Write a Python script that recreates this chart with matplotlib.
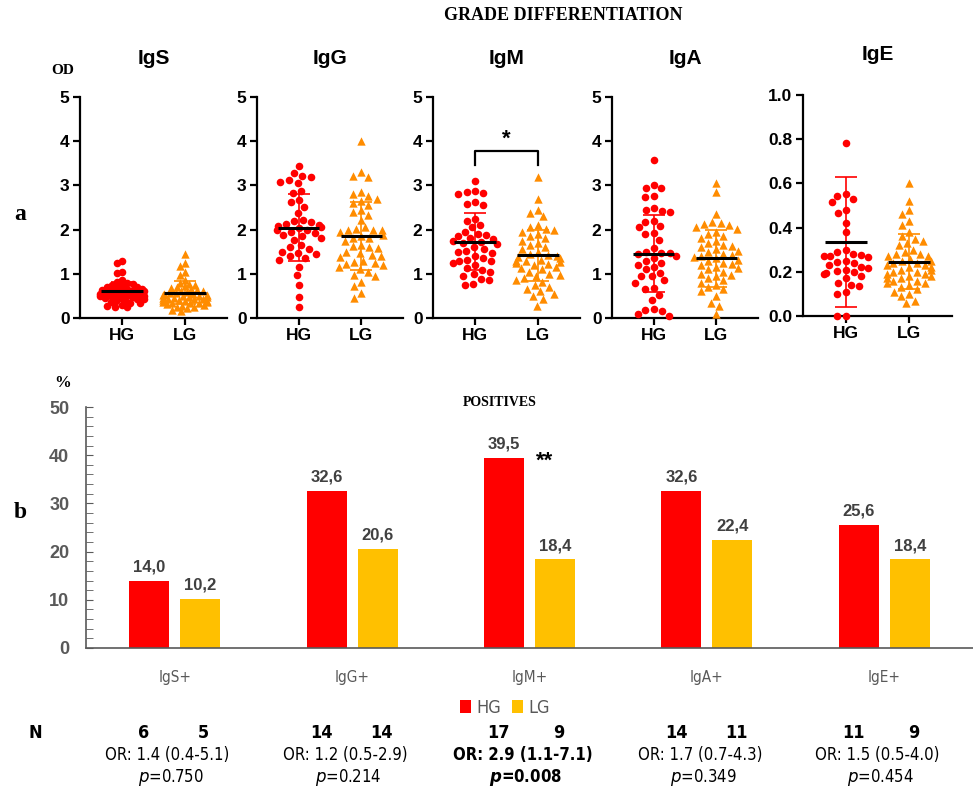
import numpy as np
import matplotlib
matplotlib.use("Agg")
import matplotlib.pyplot as plt

# ---- data ----
panels = ["IgS", "IgG", "IgM", "IgA", "IgE"]
groups = ["HG", "LG"]

igs_hg = [1.28, 1.24, 1.05, 1.02, 0.85, 0.82, 0.80, 0.78, 0.75, 0.72, 0.70, 0.70, 0.68, 0.66, 0.65,
          0.64, 0.62, 0.60, 0.60, 0.58, 0.57, 0.56, 0.55, 0.54, 0.53, 0.52, 0.50, 0.50, 0.48, 0.47,
          0.46, 0.45, 0.44, 0.42, 0.40, 0.38, 0.36, 0.35, 0.33, 0.30, 0.28, 0.26, 0.24]
igs_lg = [1.45, 1.25, 1.18, 1.05, 0.98, 0.85, 0.80, 0.78, 0.75, 0.72, 0.70, 0.68, 0.66, 0.64, 0.62,
          0.60, 0.58, 0.57, 0.56, 0.55, 0.54, 0.53, 0.52, 0.50, 0.49, 0.48, 0.47, 0.46, 0.45, 0.44,
          0.43, 0.42, 0.41, 0.40, 0.39, 0.38, 0.37, 0.36, 0.35, 0.34, 0.33, 0.32, 0.30, 0.28, 0.26,
          0.24, 0.22, 0.19, 0.16]
igg_hg = [3.43, 3.27, 3.22, 3.20, 3.12, 3.08, 3.05, 2.87, 2.82, 2.68, 2.63, 2.52, 2.38, 2.22, 2.20,
          2.18, 2.12, 2.10, 2.08, 2.05, 2.03, 2.00, 1.98, 1.95, 1.92, 1.88, 1.85, 1.80, 1.76, 1.65,
          1.60, 1.57, 1.50, 1.47, 1.45, 1.40, 1.36, 1.32, 1.16, 0.97, 0.75, 0.48, 0.26]
igg_lg = [4.0, 3.3, 3.22, 3.2, 2.85, 2.8, 2.75, 2.7, 2.65, 2.6, 2.55, 2.45, 2.4, 2.33, 2.22, 2.05,
          2.02, 2.0, 2.0, 1.98, 1.95, 1.88, 1.85, 1.82, 1.8, 1.75, 1.65, 1.62, 1.6, 1.58, 1.5, 1.46,
          1.42, 1.4, 1.38, 1.28, 1.26, 1.24, 1.22, 1.2, 1.15, 1.1, 1.05, 0.97, 0.95, 0.82, 0.72,
          0.56, 0.45]
igm_hg = [3.1, 2.88, 2.85, 2.83, 2.8, 2.62, 2.58, 2.55, 2.25, 2.2, 2.1, 2.05, 1.95, 1.9, 1.88, 1.85,
          1.8, 1.78, 1.75, 1.72, 1.7, 1.68, 1.6, 1.55, 1.52, 1.5, 1.48, 1.4, 1.35, 1.32, 1.3, 1.28,
          1.25, 1.2, 1.12, 1.08, 1.05, 1.0, 0.95, 0.88, 0.85, 0.78, 0.75]
igm_lg = [3.2, 2.7, 2.45, 2.38, 2.3, 2.1, 2.05, 2.02, 2.0, 1.95, 1.9, 1.85, 1.8, 1.75, 1.7, 1.65,
          1.6, 1.55, 1.5, 1.45, 1.42, 1.4, 1.38, 1.35, 1.32, 1.3, 1.28, 1.26, 1.25, 1.22, 1.2, 1.15,
          1.12, 1.1, 1.05, 1.0, 0.98, 0.95, 0.9, 0.86, 0.82, 0.75, 0.7, 0.65, 0.6, 0.55, 0.5, 0.42,
          0.28]
iga_hg = [3.57, 3.02, 2.95, 2.93, 2.75, 2.74, 2.5, 2.45, 2.42, 2.4, 2.2, 2.18, 2.08, 2.05, 1.92,
          1.9, 1.76, 1.58, 1.5, 1.48, 1.47, 1.45, 1.4, 1.35, 1.3, 1.25, 1.2, 1.15, 1.1, 1.01, 0.95,
          0.94, 0.85, 0.8, 0.67, 0.65, 0.52, 0.4, 0.2, 0.17, 0.15, 0.08, 0.04]
iga_lg = [3.05, 2.85, 2.35, 2.18, 2.15, 2.12, 2.1, 2.05, 2.02, 1.95, 1.9, 1.85, 1.8, 1.75, 1.7,
          1.65, 1.62, 1.6, 1.55, 1.52, 1.5, 1.45, 1.42, 1.4, 1.38, 1.35, 1.32, 1.3, 1.25, 1.22, 1.2,
          1.15, 1.12, 1.1, 1.05, 1.0, 0.98, 0.95, 0.9, 0.85, 0.8, 0.75, 0.7, 0.65, 0.6, 0.5, 0.35,
          0.28, 0.1]
ige_hg = [0.784, 0.55, 0.545, 0.53, 0.515, 0.48, 0.465, 0.42, 0.38, 0.30, 0.29, 0.28, 0.275, 0.27,
          0.27, 0.265, 0.25, 0.245, 0.24, 0.23, 0.22, 0.215, 0.21, 0.205, 0.20, 0.195, 0.19, 0.18,
          0.17, 0.15, 0.14, 0.135, 0.11, 0.10, 0.0, 0.0]
ige_lg = [0.60, 0.52, 0.48, 0.46, 0.43, 0.41, 0.38, 0.36, 0.35, 0.34, 0.33, 0.32, 0.30, 0.29, 0.28,
          0.28, 0.27, 0.27, 0.26, 0.25, 0.25, 0.24, 0.24, 0.23, 0.23, 0.22, 0.22, 0.21, 0.21, 0.20,
          0.20, 0.19, 0.19, 0.18, 0.18, 0.17, 0.17, 0.16, 0.16, 0.15, 0.15, 0.14, 0.13, 0.12, 0.11,
          0.10, 0.09, 0.07, 0.06]

hg_values = [igs_hg, igg_hg, igm_hg, iga_hg, ige_hg]
lg_values = [igs_lg, igg_lg, igm_lg, iga_lg, ige_lg]

# mean / SD as shown on the plots
hg_mean = [0.60, 2.04, 1.73, 1.45, 0.336]
hg_sd = [0.22, 0.76, 0.64, 0.87, 0.295]
lg_mean = [0.57, 1.86, 1.42, 1.35, 0.246]
lg_sd = [0.26, 0.77, 0.58, 0.64, 0.124]

bar_cats = ["IgS+", "IgG+", "IgM+", "IgA+", "IgE+"]
pct_hg = [14.0, 32.6, 39.5, 32.6, 25.6]
pct_lg = [10.2, 20.6, 18.4, 22.4, 18.4]
n_hg = [6, 14, 17, 14, 11]
n_lg = [5, 14, 9, 11, 9]
or_text = ["OR: 1.4 (0.4-5.1)", "OR: 1.2 (0.5-2.9)", "OR: 2.9 (1.1-7.1)",
           "OR: 1.7 (0.7-4.3)", "OR: 1.5 (0.5-4.0)"]
p_text = ["0.750", "0.214", "0.008", "0.349", "0.454"]

RED = "#FF0000"
ORANGE = "#FF8C00"
YELLOW = "#FFC000"
GREY = "#595959"
SANS = ["Liberation Sans", "DejaVu Sans"]
SERIF = ["Liberation Serif", "DejaVu Serif"]
NARROW = dict(family=["DejaVu Sans"], fontstretch="condensed")

W, H = 973, 787
fig = plt.figure(figsize=(W / 100, H / 100), dpi=100)
plt.rcParams["font.family"] = SANS


def box(x0, y0, x1, y1):
    # pixel box -> figure fraction rect
    return [x0 / W, 1 - y1 / H, (x1 - x0) / W, (y1 - y0) / H]


def ftext(x, y, s, **kw):
    fig.text(x / W, 1 - y / H, s, **kw)


def swarm(vals, ypx, xpx, d=8.5, maxw=22):
    # simple beeswarm: x offsets (data units) so points sit d pixels apart,
    # squashed to +-maxw pixels like a column scatter plot
    vals = np.asarray(vals, float)
    idx = np.argsort(-vals)
    placed = []
    xs = np.zeros(len(vals))
    for i in idx:
        y = vals[i] * ypx
        near = [(px, py) for px, py in placed if abs(py - y) < d]
        cands = [0.0]
        for px, py in near:
            dx = np.sqrt(d * d - (py - y) ** 2)
            cands += [px + dx, px - dx]
        cands.sort(key=lambda c: (abs(c), c))
        for c in cands:
            if all((c - px) ** 2 + (y - py) ** 2 >= d * d - 1e-6 for px, py in near):
                break
        placed.append((c, y))
        xs[i] = np.clip(c, -maxw, maxw) / xpx
    return xs


# ---- top row: scatter plots ----
boxes = [(80, 97, 227, 318), (257, 97, 403, 318), (433, 97, 580, 318),
         (612, 97, 758, 318), (803, 95, 952, 316)]

for i, name in enumerate(panels):
    ax = fig.add_axes(box(*boxes[i]))
    ymax = 1.0 if name == "IgE" else 5.0
    ypx = (boxes[i][3] - boxes[i][1]) / ymax
    xpx = (boxes[i][2] - boxes[i][0]) / 2.34
    dd = 5.5 if name == "IgS" else 8.5
    ax.scatter(0 + swarm(hg_values[i], ypx, xpx, d=dd), hg_values[i], s=30, color=RED,
               marker="o", linewidths=0, zorder=3, clip_on=False)
    ax.scatter(1 + swarm(lg_values[i], ypx, xpx, d=dd), lg_values[i], s=36, color=ORANGE,
               marker="^", linewidths=0, zorder=3, clip_on=False)
    for xpos, m, s, c in [(0, hg_mean[i], hg_sd[i], RED), (1, lg_mean[i], lg_sd[i], ORANGE)]:
        ax.errorbar(xpos, m, yerr=s, color=c, capsize=8, elinewidth=1.2, capthick=1.2, zorder=4)
        ax.hlines(m, xpos - 0.33, xpos + 0.33, color="black", lw=2.2, zorder=5)
    ax.set_xlim(-0.67, 1.67)
    if name == "IgE":
        ax.set_ylim(0, 1.0)
        ax.set_yticks([0, 0.2, 0.4, 0.6, 0.8, 1.0])
        ax.set_yticklabels(["0.0", "0.2", "0.4", "0.6", "0.8", "1.0"])
    else:
        ax.set_ylim(0, 5)
        ax.set_yticks(range(6))
    ax.set_xticks([0, 1])
    ax.set_xticklabels(groups)
    for sp in ["top", "right"]:
        ax.spines[sp].set_visible(False)
    for sp in ["left", "bottom"]:
        ax.spines[sp].set_linewidth(1.6)
    ax.tick_params(width=1.6, length=5, labelsize=12.5, pad=2.5)
    for lab in ax.get_xticklabels() + ax.get_yticklabels():
        lab.set_fontweight("bold")
    ax.patch.set_alpha(0)
    ax.set_title(name, fontsize=15, fontweight="bold", pad=24 if name != "IgE" else 25)
    if name == "IgM":
        ax.plot([0, 0, 1, 1], [3.46, 3.78, 3.78, 3.46], color="black", lw=1.6)
        ax.text(0.5, 3.8, "*", ha="center", va="bottom", fontsize=16, fontweight="bold")

ftext(563, 16, "GRADE DIFFERENTIATION", family=SERIF, fontsize=13, fontweight="bold",
      ha="center", va="center")
ftext(63, 70, "OD", family=SERIF, fontsize=11, fontweight="bold", ha="center", va="center")
ftext(20, 215, "a", family=SERIF, fontsize=17, fontweight="bold", ha="center", va="center")

# ---- bottom: bar chart ----
bx = fig.add_axes(box(86, 407, 973, 648))
x = np.arange(len(bar_cats))
bw = 0.226
off = 0.144
b1 = bx.bar(x - off, pct_hg, bw, color=RED, label="HG")
b2 = bx.bar(x + off, pct_lg, bw, color=YELLOW, label="LG")
for xs, vals in [(x - off, pct_hg), (x + off, pct_lg)]:
    for xi, v in zip(xs, vals):
        bx.text(xi, v + 1.3, f"{v:.1f}".replace(".", ","), ha="center", va="bottom",
                fontsize=12, fontweight="bold", color="#404040")
bx.text(x[2] + off - 0.06, pct_hg[2] - 0.8, "**", ha="center", va="center", fontsize=16,
        fontweight="bold", color="black")
bx.set_xlim(-0.5, 4.5)
bx.set_ylim(0, 50)
bx.set_yticks(range(0, 51, 10))
bx.set_yticks(range(0, 51, 2), minor=True)
bx.set_xticks(x)
bx.set_xticklabels(bar_cats, fontsize=11, color=GREY, **NARROW)
bx.tick_params(axis="x", length=0, pad=16)
bx.tick_params(axis="y", which="both", direction="in", length=5, color=GREY,
               labelsize=13, labelcolor=GREY, pad=12)
for lab in bx.get_yticklabels():
    lab.set_fontweight("bold")
for sp in ["top", "right"]:
    bx.spines[sp].set_visible(False)
for sp in ["left", "bottom"]:
    bx.spines[sp].set_color(GREY)
    bx.spines[sp].set_linewidth(1.2)

fig.legend(handles=[b1, b2], loc="center", bbox_to_anchor=(505 / W, 1 - 708 / H), ncol=2,
           frameon=False, prop={"family": ["DejaVu Sans"], "stretch": "condensed", "size": 13},
           handlelength=0.6, handleheight=0.7, handletextpad=0.3, columnspacing=0.6,
           labelcolor=GREY)

ftext(500, 402, "POSITIVES", family=SERIF, fontsize=10, fontweight="bold", ha="center", va="center")
ftext(63, 383, "%", family=SERIF, fontsize=12, fontweight="bold", ha="center", va="center")
ftext(20, 512, "b", family=SERIF, fontsize=17, fontweight="bold", ha="center", va="center")

# ---- N / OR / p rows under the bars ----
tr = matplotlib.transforms.blended_transform_factory(bx.transData, fig.transFigure)
ftext(35, 733, "N", fontsize=13, fontweight="bold", ha="center", va="center", **NARROW)
for i in range(len(bar_cats)):
    bold = "bold" if i == 2 else "normal"
    bx.text(x[i] - off - 0.03, 1 - 733 / H, str(n_hg[i]), transform=tr, ha="center",
            va="center", fontsize=13, fontweight="bold", **NARROW)
    bx.text(x[i] + off + 0.02, 1 - 733 / H, str(n_lg[i]), transform=tr, ha="center",
            va="center", fontsize=13, fontweight="bold", **NARROW)
    bx.text(x[i] - 0.04, 1 - 755 / H, or_text[i], transform=tr, ha="center", va="center",
            fontsize=12, fontweight=bold, **NARROW)
    pl = r"$\mathbfit{p}$" if i == 2 else r"$\it{p}$"
    bx.text(x[i] - 0.02, 1 - 778 / H, pl + "=" + p_text[i], transform=tr, ha="center",
            va="center", fontsize=12, fontweight=bold, **NARROW)

fig.savefig("out.png", dpi=100)
